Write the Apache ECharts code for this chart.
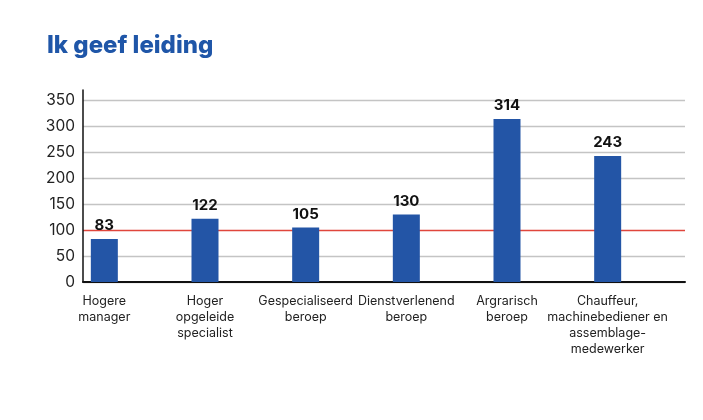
<!DOCTYPE html>
<html>
<head>
<meta charset="utf-8">
<script src="https://cdn.jsdelivr.net/npm/echarts@6/dist/echarts.min.js"></script>
<style>html,body{margin:0;padding:0;background:#fff}#c{width:703px;height:420px}</style>
</head>
<body>
<div id="c"></div>
<script>
const titleText = 'Ik geef leiding';
const categories = ['Hogere\nmanager', 'Hoger\nopgeleide\nspecialist', 'Gespecialiseerd\nberoep', 'Dienstverlenend\nberoep', 'Argrarisch\nberoep', 'Chauffeur,\nmachinebediener en\nassemblage-\nmedewerker'];
const values = [83, 122, 105, 130, 314, 243];
const yTicks = [0, 50, 100, 150, 200, 250, 300, 350];
const referenceLine = 100;

const yMax = 370;
const gridColors = yTicks.map(v => v === referenceLine ? '#e0463c' : '#c4c4c4');
gridColors.push('rgba(0,0,0,0)');

const chart = echarts.init(document.getElementById('c'), null, {renderer: 'canvas'});
chart.setOption({
  animation: false,
  backgroundColor: '#fff',
  title: {
    text: titleText, left: 42, top: 29,
    textStyle: {fontFamily: 'Inter', fontWeight: 800, fontSize: 24, color: '#1f56a8'}
  },
  grid: [
    {left: 83, right: 18, top: 90, bottom: 138},
    {left: 54, right: 45, top: 90, bottom: 138}
  ],
  xAxis: [
    {type: 'category', gridIndex: 0, data: categories, axisLine: {lineStyle: {color: '#111', width: 2}}, axisTick: {show: false}, axisLabel: {show: false}},
    {type: 'category', gridIndex: 1, data: categories, axisLine: {show: false}, axisTick: {show: false},
     axisLabel: {interval: 0, margin: 11, fontFamily: 'Inter', fontSize: 12.5, lineHeight: 16, color: '#222'}}
  ],
  yAxis: [
    {type: 'value', gridIndex: 0, min: 0, max: yMax, interval: 50,
     axisLine: {show: true, lineStyle: {color: '#111', width: 1.5}}, axisTick: {show: false},
     axisLabel: {margin: 8, fontFamily: 'Inter', fontSize: 15.5, color: '#222', formatter: v => yTicks.includes(v) ? String(v) : ''},
     splitLine: {lineStyle: {color: gridColors, width: 1.3}}},
    {type: 'value', gridIndex: 1, min: 0, max: yMax, interval: 50, show: false, splitLine: {show: false}}
  ],
  series: [{
    type: 'bar', xAxisIndex: 1, yAxisIndex: 1, data: values, barWidth: 27,
    itemStyle: {color: '#2355a6'},
    label: {show: true, position: 'top', distance: 6, fontFamily: 'Inter', fontWeight: 700, fontSize: 15, color: '#111'}
  }]
});
</script>
</body>
</html>
